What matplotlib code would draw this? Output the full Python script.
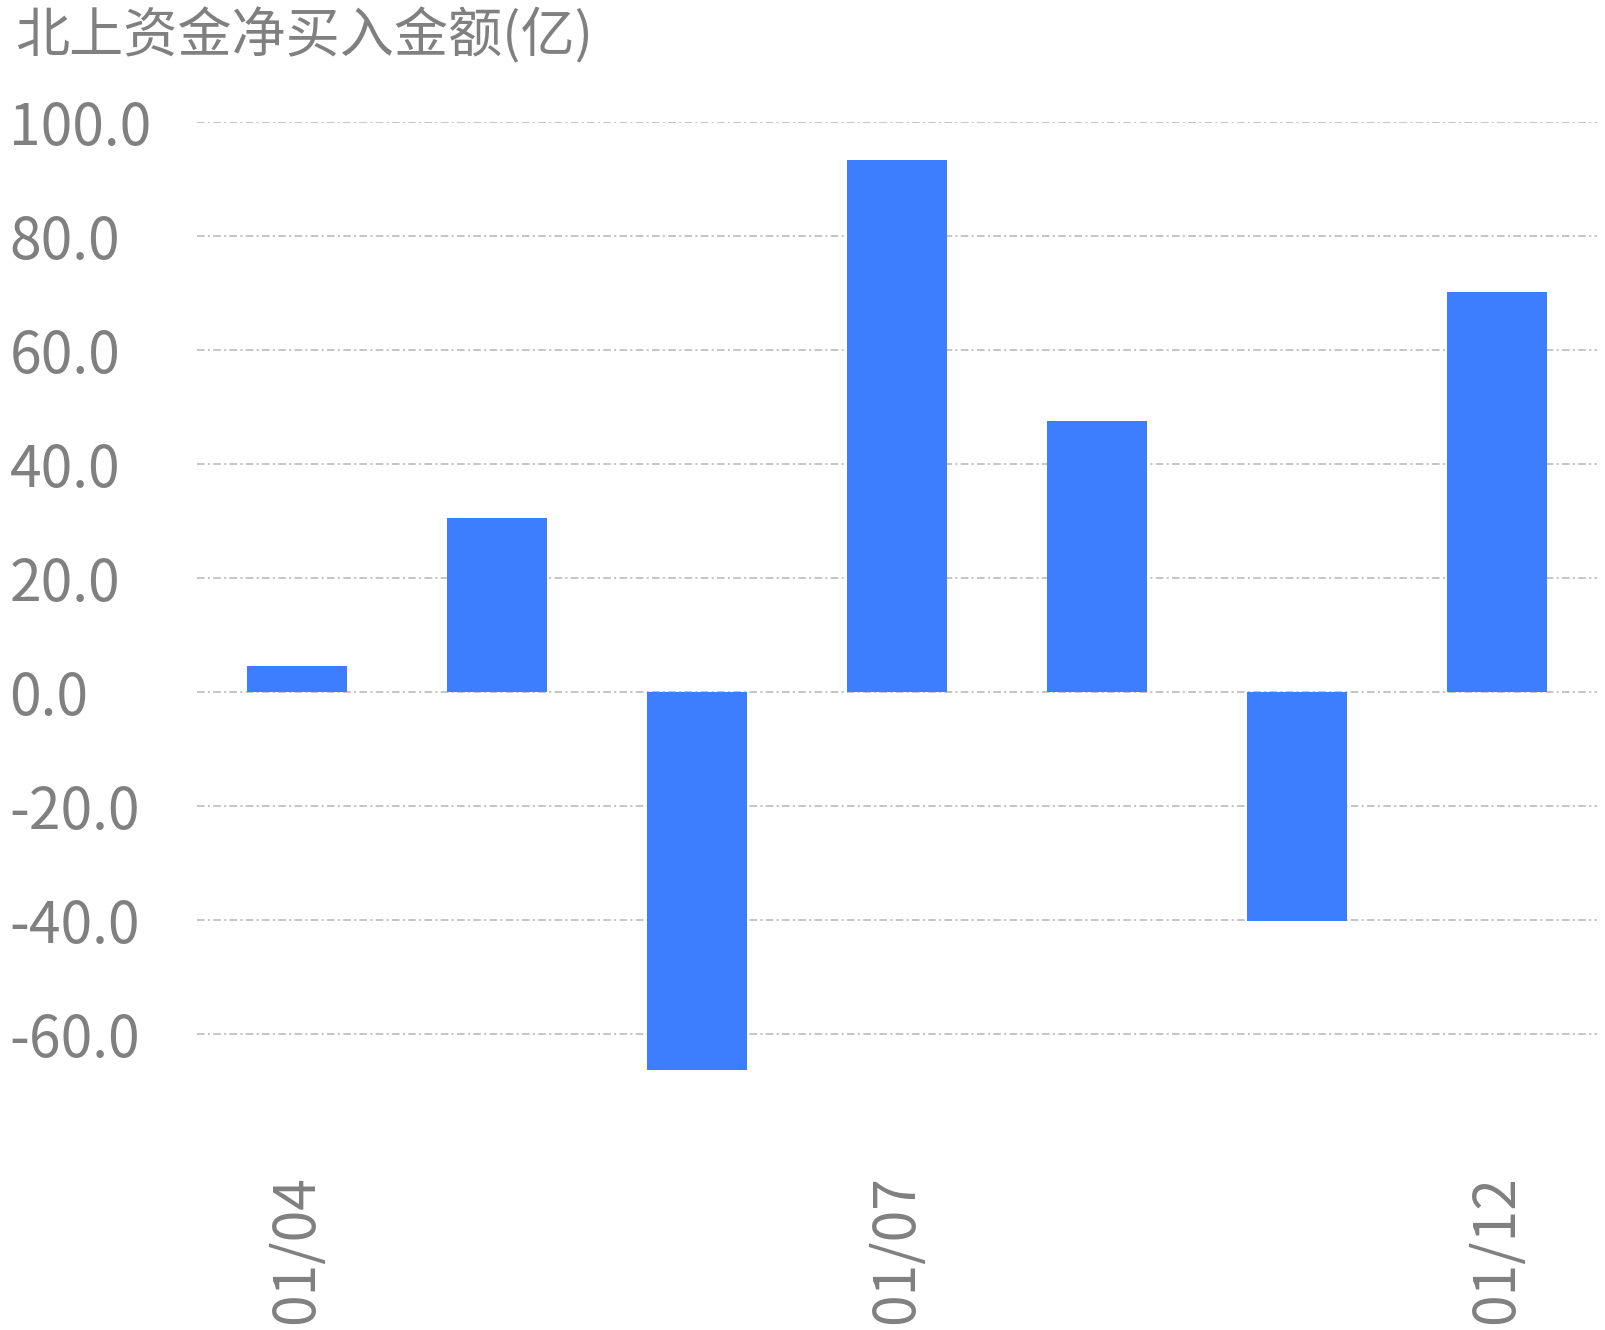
import matplotlib
matplotlib.use("Agg")
import matplotlib.pyplot as plt

plt.rcParams['font.family'] = ['Noto Sans CJK SC', 'DejaVu Sans']

# 数据
dates = ["01/04", "01/05", "01/06", "01/07", "01/08", "01/11", "01/12"]
net_buy = [4.6, 30.5, -66.3, 93.3, 47.5, -40.1, 70.2]
y_ticks = [-60, -40, -20, 0, 20, 40, 60, 80, 100]
shown_labels = ["01/04", "01/07", "01/12"]

bar_color = "#3d7eff"
text_color = "#808080"
grid_color = "#c0c0c0"

W, H = 1606, 1330
fig = plt.figure(figsize=(W / 100, H / 100), dpi=100)

# 坐标区位置 (像素)
left, right = 197, 1597
top, bottom = 122, 1119.5
ax = fig.add_axes([left / W, 1 - bottom / H, (right - left) / W, (bottom - top) / H])

x = list(range(len(dates)))
ax.bar(x, net_buy, width=0.5, color=bar_color, zorder=2)

ax.set_xlim(-0.5, 6.5)
ax.set_ylim(-75, 100)
ax.set_yticks(y_ticks)
ax.set_yticklabels([f"{v:.1f}" for v in y_ticks])

ax.set_xticks(x)
ax.set_xticklabels([d if d in shown_labels else "" for d in dates], rotation=90)

ax.grid(axis="y", color=grid_color, linewidth=1.3, linestyle=(0, (4.2, 1.8, 1.2, 1.8)), zorder=0)
ax.set_axisbelow(True)

for s in ax.spines.values():
    s.set_visible(False)
ax.tick_params(axis="both", length=0, colors=text_color, labelsize=41)
ax.tick_params(axis="x", pad=40)
for lbl in ax.get_yticklabels():
    lbl.set_horizontalalignment("left")
# 像素 -> 点: 187px * 0.72
ax.tick_params(axis="y", pad=135)

fig.text(15 / W, 1 - 8 / H, "北上资金净买入金额(亿)", fontsize=39, color=text_color,
         ha="left", va="top")

fig.savefig("out.png", dpi=100, facecolor="white")
